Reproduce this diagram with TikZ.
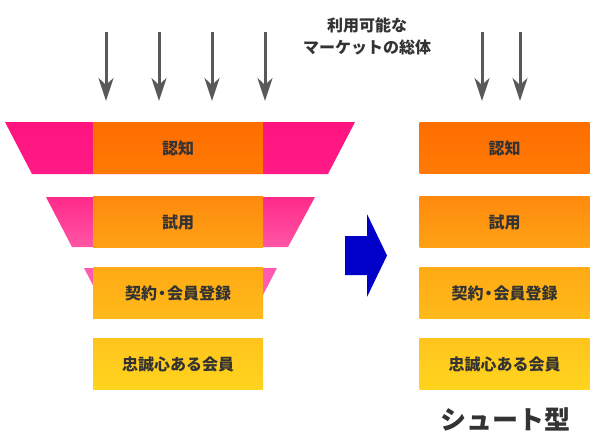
\documentclass[tikz,border=0pt]{standalone}
\usepackage{fontspec}
\usetikzlibrary{arrows.meta}
\newfontfamily\jp{Noto Sans CJK JP}
\definecolor{oa}{HTML}{FF6E00}\definecolor{ob}{HTML}{FF7A05}
\definecolor{oc}{HTML}{FF8A0E}\definecolor{od}{HTML}{FFA214}
\definecolor{oe}{HTML}{FFAA14}\definecolor{of}{HTML}{FFBA1A}
\definecolor{og}{HTML}{FFC41C}\definecolor{oh}{HTML}{FFD41E}
\definecolor{pa}{HTML}{FF1480}\definecolor{pb}{HTML}{FF1A85}
\definecolor{pc}{HTML}{FF2A8A}\definecolor{pd}{HTML}{FF55A5}
\definecolor{pe}{HTML}{FF5AB0}\definecolor{pf}{HTML}{FF66B5}
\definecolor{txt}{HTML}{333333}
\definecolor{arr}{HTML}{595959}
\definecolor{bluearr}{HTML}{0000C8}
\newcommand{\jdot}{\hspace{-3pt}・\hspace{-3pt}}
\tikzset{
  box/.style={minimum width=170pt, minimum height=51pt, inner sep=0pt, draw=none,
    font=\jp\bfseries\fontsize{16}{18}\selectfont, text=txt},
  darr/.style={draw=arr, line width=3pt, -{Stealth[length=23pt,width=15pt,inset=7pt]}},
  lbl/.style={font=\jp\bfseries\fontsize{16}{18}\selectfont, text=txt, inner sep=0pt}
}
\begin{document}
\begin{tikzpicture}[x=1pt,y=-1pt]
\useasboundingbox (0,0) rectangle (600,445);
% funnel side parts
\shade[top color=pa,bottom color=pb] (5,122) -- (355,122) -- (328,174) -- (32,174) -- cycle;
\shade[top color=pc,bottom color=pd] (46,197) -- (315,197) -- (288,247) -- (72,247) -- cycle;
\shade[top color=pe,bottom color=pf] (84,268) -- (277,268) -- (251,318) -- (110,318) -- cycle;
% left boxes
\node[box, top color=oa, bottom color=ob] (l1) at (178,148) {認知};
\node[box, top color=oc, bottom color=od] (l2) at (178,222) {試用};
\node[box, top color=oe, bottom color=of] (l3) at (178,293) {契約\jdot 会員登録};
\node[box, top color=og, bottom color=oh] (l4) at (178,364) {忠誠心ある会員};
% right boxes
\node[box, top color=oa, bottom color=ob] (r1) at (504.5,148) {認知};
\node[box, top color=oc, bottom color=od] (r2) at (504.5,222) {試用};
\node[box, top color=oe, bottom color=of] (r3) at (504.5,293) {契約\jdot 会員登録};
\node[box, top color=og, bottom color=oh] (r4) at (504.5,364) {忠誠心ある会員};
% blue arrow
\fill[bluearr] (345,236) -- (367,236) -- (367,214) -- (387,255.5) -- (367,297) -- (367,275) -- (345,275) -- cycle;
% down arrows
\foreach \n/\x in {a/106,b/159,c/212,d/265,e/482,f/520}{
  \coordinate (\n s) at (\x,32);
  \coordinate (\n e) at (\x,101);
  \draw[darr] (\n s) -- (\n e);
}
% texts
\node[lbl] (t1) at (367,25) {利用可能な};
\node[lbl] (t2) at (367,47) {マーケットの総体};
\node[font=\jp\bfseries\fontsize{26}{30}\selectfont, text=txt, inner sep=0pt] (title) at (505,419) {シュート型};
\end{tikzpicture}
\end{document}
